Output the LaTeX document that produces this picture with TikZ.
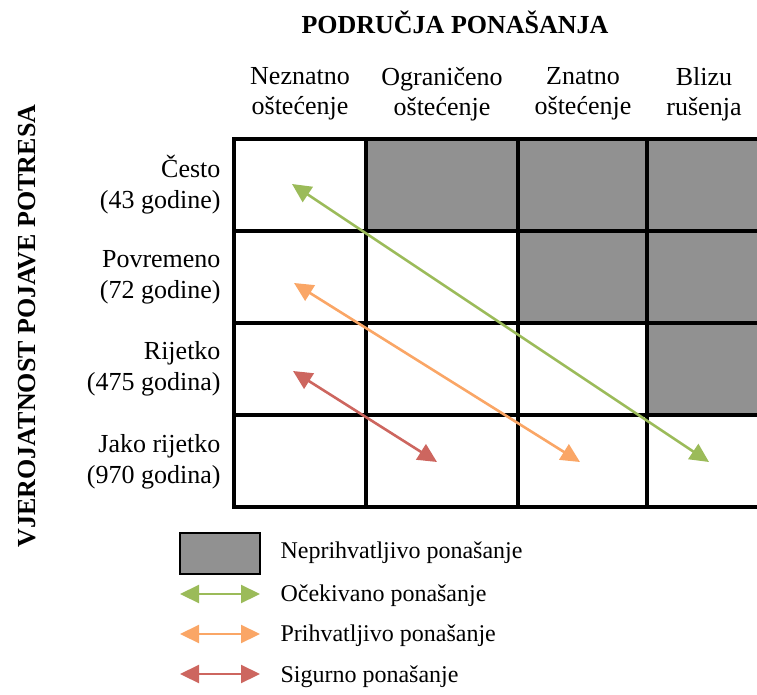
\documentclass[tikz,border=0pt]{standalone}
\usepackage{fontspec}
\setmainfont{Liberation Serif}
\usepackage{tikz}
\usetikzlibrary{arrows.meta}
\usetikzlibrary{positioning}

\definecolor{unsafegray}{RGB}{145,145,145}
\definecolor{expgreen}{RGB}{155,187,89}
\definecolor{accorange}{RGB}{250,166,102}
\definecolor{safered}{RGB}{205,102,95}

\begin{document}
\begin{tikzpicture}[
  x=1pt,y=-1pt,
  line cap=rect,
  grid/.style={draw=black,line width=3.2pt},
  badcell/.style={fill=unsafegray},
  perf/.style={line width=2.6pt,{Triangle[length=19pt,width=18pt]}-{Triangle[length=19pt,width=18pt]}},
  collabel/.style={font=\fontsize{26}{30}\selectfont,align=center},
  rowlabel/.style={font=\fontsize{26}{31}\selectfont,align=right,anchor=east},
  legtext/.style={font=\fontsize{24}{28}\selectfont,anchor=west},
  heading/.style={font=\fontsize{26}{30}\selectfont\bfseries}
]
  \useasboundingbox (0,0) rectangle (757,695);

  % Headings
  \node[heading] (title) at (455,22) {PODRUČJA PONAŠANJA};
  \node[heading,rotate=90] (ylabel) at (27,326) {VJEROJATNOST POJAVE POTRESA};

  % Unacceptable cells
  \fill[badcell] (366,139) rectangle (760,231);
  \fill[badcell] (518,231) rectangle (760,323);
  \fill[badcell] (647,323) rectangle (760,415);

  % Grid
  \foreach \y in {139,231,323,415,507}
    \draw[grid] (234,\y) -- (760,\y);
  \foreach \x in {234,366,518,647}
    \draw[grid] (\x,139) -- (\x,507);

  % Column labels
  \node[collabel] (c1) at (300,94) {Neznatno\\oštećenje};
  \node[collabel] (c2) at (442,94) {Ograničeno\\oštećenje};
  \node[collabel] (c3) at (583,94) {Znatno\\oštećenje};
  \node[collabel] (c4) at (704,94) {Blizu\\rušenja};

  % Row labels
  \node[rowlabel] (r1) at (224,185) {Često\\(43 godine)};
  \node[rowlabel] (r2) at (224,277) {Povremeno\\(72 godine)};
  \node[rowlabel] (r3) at (224,369) {Rijetko\\(475 godina)};
  \node[rowlabel] (r4) at (224,462) {Jako rijetko\\(970 godina)};

  % Performance arrows
  \coordinate (g1) at (292,184);
  \coordinate (g2) at (709,462);
  \coordinate (o1) at (294,283);
  \coordinate (o2) at (580,462);
  \coordinate (s1) at (293,371);
  \coordinate (s2) at (437,462);
  \draw[perf,draw=expgreen,fill=expgreen] (g1) -- (g2);
  \draw[perf,draw=accorange,fill=accorange] (o1) -- (o2);
  \draw[perf,draw=safered,fill=safered] (s1) -- (s2);

  % Legend
  \node[draw=black,line width=2pt,fill=unsafegray,minimum width=80pt,minimum height=41pt,inner sep=0pt] (lbox) at (220,553) {};
  \node[legtext] (lt1) at (277,553) {Neprihvatljivo ponašanje};
  \coordinate (la1) at (180,594);
  \coordinate (lb1) at (260,594);
  \coordinate (la2) at (180,634);
  \coordinate (lb2) at (260,634);
  \coordinate (la3) at (180,674);
  \coordinate (lb3) at (260,674);
  \draw[perf,line width=2.2pt,draw=expgreen,fill=expgreen] (la1) -- (lb1);
  \draw[perf,line width=2.2pt,draw=accorange,fill=accorange] (la2) -- (lb2);
  \draw[perf,line width=2.2pt,draw=safered,fill=safered] (la3) -- (lb3);
  \node[legtext] (lt2) at (277,596) {Očekivano ponašanje};
  \node[legtext] (lt3) at (277,636) {Prihvatljivo ponašanje};
  \node[legtext] (lt4) at (277,677) {Sigurno ponašanje};
\end{tikzpicture}
\end{document}
